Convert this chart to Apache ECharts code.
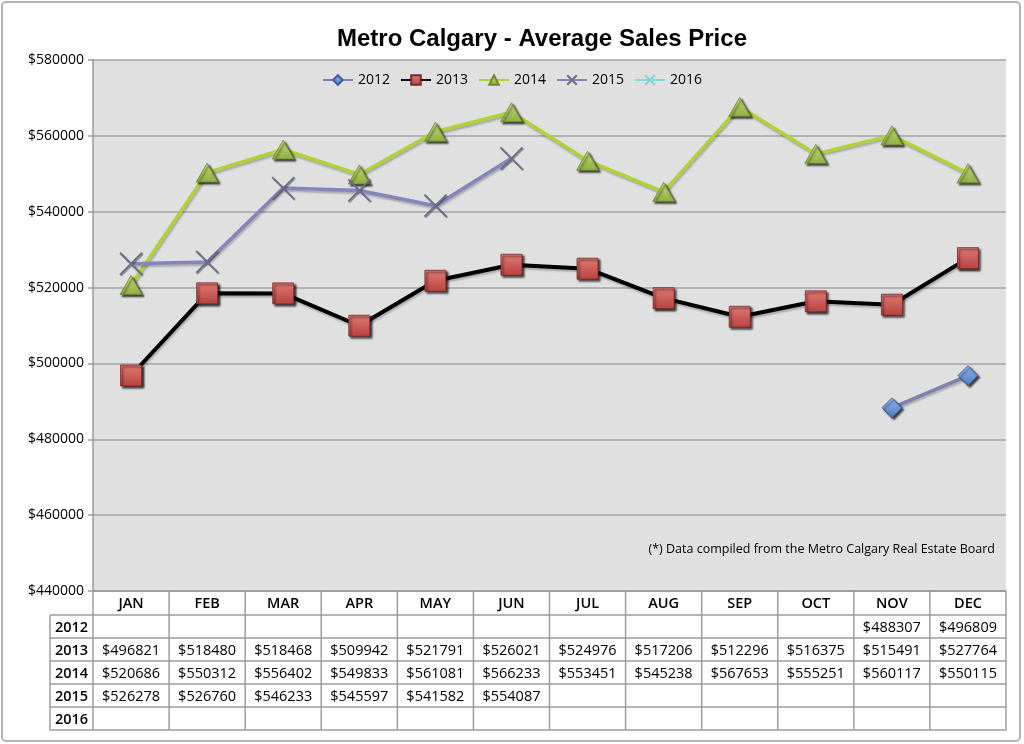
<!DOCTYPE html>
<html>
<head>
<meta charset="utf-8">
<script src="https://cdn.jsdelivr.net/npm/echarts@6/dist/echarts.min.js"></script>
<style>
html,body{margin:0;padding:0;background:#fff;}
#c{width:1024px;height:744px;}
</style>
</head>
<body>
<div id="c"></div>
<script>
const months = ['JAN','FEB','MAR','APR','MAY','JUN','JUL','AUG','SEP','OCT','NOV','DEC'];
const years = ['2012','2013','2014','2015','2016'];
const s2012 = [null,null,null,null,null,null,null,null,null,null,488307,496809];
const s2013 = [496821,518480,518468,509942,521791,526021,524976,517206,512296,516375,515491,527764];
const s2014 = [520686,550312,556402,549833,561081,566233,553451,545238,567653,555251,560117,550115];
const s2015 = [526278,526760,546233,545597,541582,554087,null,null,null,null,null,null];
const s2016 = [null,null,null,null,null,null,null,null,null,null,null,null];
const yTicks = {min:440000, max:580000, interval:20000};
const titleText = 'Metro Calgary - Average Sales Price';
const noteText = '(*) Data compiled from the Metro Calgary Real Estate Board';

const FONT = '"Open Sans", "DejaVu Sans", sans-serif';
const chart = echarts.init(document.getElementById('c'), null, {renderer:'canvas'});

const shadow = {shadowColor:'rgba(0,0,0,0.75)', shadowBlur:2, shadowOffsetX:2, shadowOffsetY:2};
const lineShadow = {shadowColor:'rgba(0,0,0,0.25)', shadowBlur:2, shadowOffsetX:1, shadowOffsetY:2};

function grad(top, bottom){
  return new echarts.graphic.LinearGradient(0,0,0,1,[{offset:0,color:top},{offset:1,color:bottom}]);
}

const series = [
  {name:'2012', data:s2012, symbol:'diamond', symbolSize:20,
   lineStyle:Object.assign({color:'#7f7fb5', width:3.5}, lineShadow),
   itemStyle:Object.assign({color:grad('#8fb2ec','#4f7fc4'), borderColor:'#3e5f95', borderWidth:0.8}, shadow)},
  {name:'2013', data:s2013, symbol:'rect', symbolSize:21,
   lineStyle:Object.assign({color:'#000', width:4}, lineShadow),
   itemStyle:Object.assign({color:grad('#e07a75','#b8423e'), borderColor:'#7a2a28', borderWidth:0.8}, shadow)},
  {name:'2014', data:s2014, symbol:'triangle', symbolSize:[22,19],
   lineStyle:Object.assign({color:'#b0d236', width:3.5}, lineShadow),
   itemStyle:Object.assign({color:grad('#c0da72','#8fae45'), borderColor:'#6f8a33', borderWidth:0.8}, shadow)},
  {name:'2015', data:s2015, symbol:'path://M0,0L10,10M10,0L0,10', symbolSize:22,
   lineStyle:Object.assign({color:'#8585bd', width:3.5}, lineShadow),
   itemStyle:{color:'rgba(0,0,0,0)', borderColor:'#6e6e8e', borderWidth:1.8, shadowColor:'rgba(0,0,0,0.4)', shadowBlur:1, shadowOffsetX:1, shadowOffsetY:1}},
  {name:'2016', data:s2016, symbol:'path://M0,0L10,10M10,0L0,10', symbolSize:14,
   lineStyle:{color:'#7fd6e0', width:3.5},
   itemStyle:{color:'#7fd6e0', borderColor:'#7fd6e0', borderWidth:1.5}}
].map(s => Object.assign({type:'line', connectNulls:false, z:3, showSymbol:true}, s));

chart.setOption({
  animation:false,
  backgroundColor:'#fff',
  title:{text:titleText, left:537, top:22, textAlign:'center',
    textStyle:{fontFamily:'"Liberation Sans Narrow", "Liberation Sans", sans-serif', fontWeight:'bold', fontSize:24, color:'#000'}},
  legend:{top:68, left:'center', itemWidth:30, itemHeight:12, itemGap:10,
    textStyle:{fontFamily:FONT, fontSize:14, color:'#000'}, data:years},
  grid:{left:93, right:18, top:60, bottom:153, show:true, backgroundColor:'#e0e0e0', borderWidth:0},
  xAxis:{type:'category', data:months, boundaryGap:true,
    axisLine:{show:true, lineStyle:{color:'#9a9a9a', width:1.5}},
    axisTick:{show:false}, axisLabel:{show:false}, splitLine:{show:false}},
  yAxis:{type:'value', min:yTicks.min, max:yTicks.max, interval:yTicks.interval,
    axisLine:{show:true, lineStyle:{color:'#9a9a9a', width:1.5}},
    axisTick:{show:true, length:5, lineStyle:{color:'#9a9a9a', width:1.5}},
    axisLabel:{formatter:v => '$' + v, fontFamily:FONT, fontSize:14, color:'#000', margin:9},
    splitLine:{show:true, lineStyle:{color:'#a4a4a4', width:1.5}}},
  series:series
});

// data table beneath the plot, positioned from the category axis
const rowBounds = [591, 615, 638, 661, 684, 707, 730];
const tableLeft = 50;
const x0 = chart.convertToPixel({xAxisIndex:0}, 0);
const x1 = chart.convertToPixel({xAxisIndex:0}, 1);
const bw = x1 - x0;
const centers = months.map((m,i) => chart.convertToPixel({xAxisIndex:0}, i));
const gLeft = centers[0] - bw/2;
const gRight = centers[11] + bw/2;
const lineC = '#9c9c9c';
const els = [];
function hline(x1_, x2_, y){ els.push({type:'line', shape:{x1:x1_, y1:y, x2:x2_, y2:y}, style:{stroke:lineC, lineWidth:1.5}, z:10}); }
function vline(x, y1, y2){ els.push({type:'line', shape:{x1:x, y1:y1, x2:x, y2:y2}, style:{stroke:lineC, lineWidth:1.5}, z:10}); }
function txt(x, y, t, w){ els.push({type:'text', x:x, y:y, style:{text:t, fill:'#000', font:(w||'normal') + ' 14.5px ' + FONT, align:'center', verticalAlign:'middle'}, z:11}); }

hline(gLeft, gRight, rowBounds[0]);
for (let r = 1; r < rowBounds.length; r++) hline(tableLeft, gRight, rowBounds[r]);
vline(tableLeft, rowBounds[1], rowBounds[6]);
for (let i = 0; i <= 12; i++) vline(gLeft + i*bw, rowBounds[0], rowBounds[6]);
months.forEach((m,i) => txt(centers[i], (rowBounds[0]+rowBounds[1])/2 + 1, m, '600'));
const rowsData = [s2012, s2013, s2014, s2015, s2016];
years.forEach((y, r) => {
  const cy = (rowBounds[r+1] + rowBounds[r+2])/2 + 1;
  txt((tableLeft + gLeft)/2, cy, y, '600');
  rowsData[r].forEach((v, i) => { if (v != null) txt(centers[i], cy, '$' + v); });
});
// note
els.push({type:'text', x:995, y:549, style:{text:noteText, fill:'#000', font:'normal 12.5px ' + FONT, align:'right', verticalAlign:'middle'}, z:11});
// outer frame
els.push({type:'rect', shape:{x:2, y:2, width:1018, height:739, r:4}, style:{fill:'none', stroke:'#b4b4b4', lineWidth:2}, z:0});

chart.setOption({graphic:{elements:els}});
</script>
</body>
</html>
